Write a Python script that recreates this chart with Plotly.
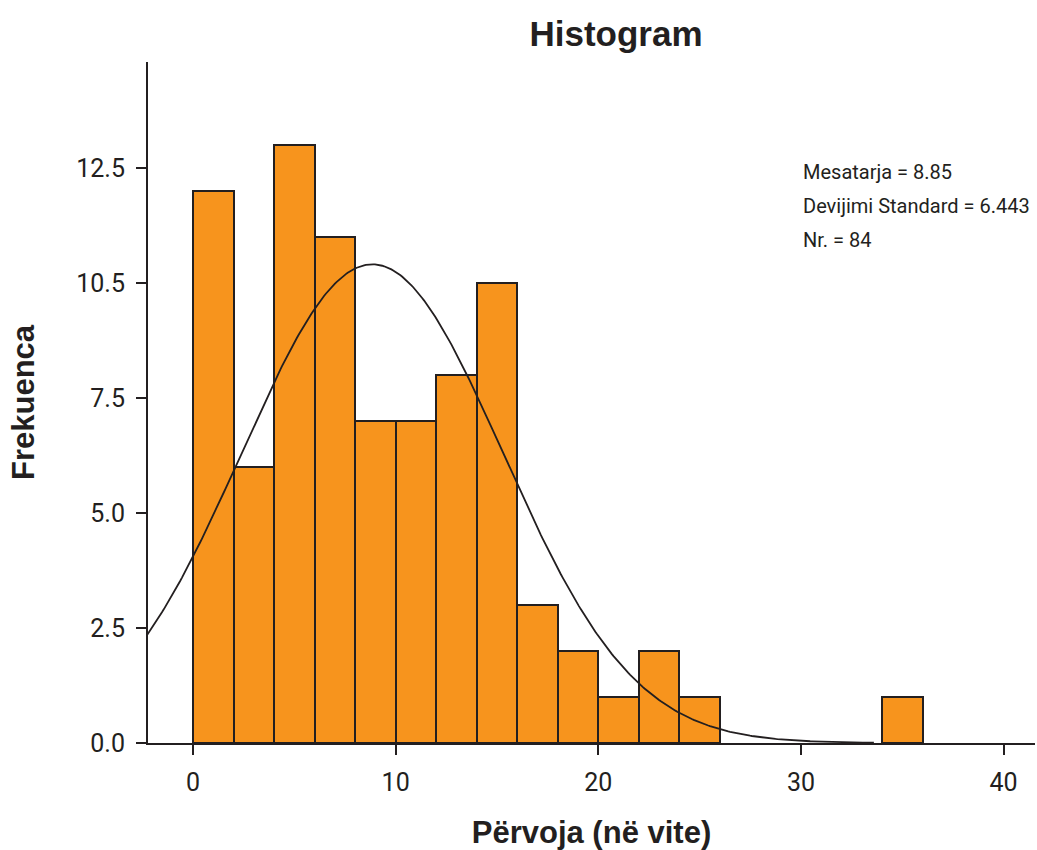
import numpy as np
import plotly.graph_objects as go

bin_starts = [0, 2, 4, 6, 8, 10, 12, 14, 16, 18, 20, 22, 24, 34]
counts = [12, 6, 13, 11, 7, 7, 8, 10, 3, 2, 1, 2, 1, 1]
bin_width = 2
mean_val = 8.85
sd_val = 6.443
n_val = 84
y_tickvals = [0, 2.5, 5, 7.5, 10, 12.5]
y_ticktext = ["0.0", "2.5", "5.0", "7.5", "10.5", "12.5"]
x_tickvals = [0, 10, 20, 30, 40]
stats_lines = ["Mesatarja = 8.85", "Devijimi Standard = 6.443", "Nr. = 84"]

ink = "#231f20"
narrow = "Roboto, sans-serif"
bold = "Liberation Sans, Arial, sans-serif"

centers = [b + bin_width / 2 for b in bin_starts]

xs = np.linspace(-2.25, 33.6, 400)
ys = n_val * bin_width * np.exp(-0.5 * ((xs - mean_val) / sd_val) ** 2) / (sd_val * np.sqrt(2 * np.pi))

L, R, T, B = 148, 2, 62, 107
W, H = 1037, 850
pw, ph = W - L - R, H - T - B

fig = go.Figure()
fig.add_trace(go.Bar(
    x=centers, y=counts, width=bin_width,
    marker=dict(color="#F7941D", line=dict(color=ink, width=2)),
    showlegend=False, hoverinfo="x+y"))
fig.add_trace(go.Scatter(
    x=xs, y=ys, mode="lines", line=dict(color=ink, width=1.8),
    showlegend=False, hoverinfo="skip"))

for i, t in enumerate(stats_lines):
    fig.add_annotation(
        x=(801 - L) / pw, y=1 - (172 + 34 * i - T) / ph, xref="paper", yref="paper",
        text=t, showarrow=False, xanchor="left", yanchor="middle",
        font=dict(family=narrow, size=20, color=ink))

fig.update_layout(
    width=W, height=H,
    margin=dict(l=L, r=R, t=T, b=B),
    plot_bgcolor="white", paper_bgcolor="white",
    bargap=0,
    title=dict(text="<b>Histogram</b>", x=616 / W, xanchor="center", y=1 - 34 / H, yanchor="middle",
               font=dict(family=bold, size=35, color=ink)),
    xaxis=dict(
        range=[-2.22, 41.55], tickvals=x_tickvals, showgrid=False, zeroline=False,
        showline=True, linecolor=ink, linewidth=2, ticks="outside", ticklen=10,
        tickwidth=2, tickcolor=ink, ticklabelstandoff=6,
        tickfont=dict(family=narrow, size=25, color=ink),
        title=dict(text="<b>Përvoja (në vite)</b>", font=dict(family=bold, size=31, color=ink), standoff=26)),
    yaxis=dict(
        range=[0, 14.8], tickvals=y_tickvals, ticktext=y_ticktext, showgrid=False, zeroline=False,
        showline=True, linecolor=ink, linewidth=2, ticks="outside", ticklen=10,
        tickwidth=2, tickcolor=ink, ticklabelstandoff=6,
        tickfont=dict(family=narrow, size=25, color=ink),
        title=dict(text="<b>Frekuenca</b>", font=dict(family=bold, size=31, color=ink), standoff=32)),
)

fig.write_html("out.html")
